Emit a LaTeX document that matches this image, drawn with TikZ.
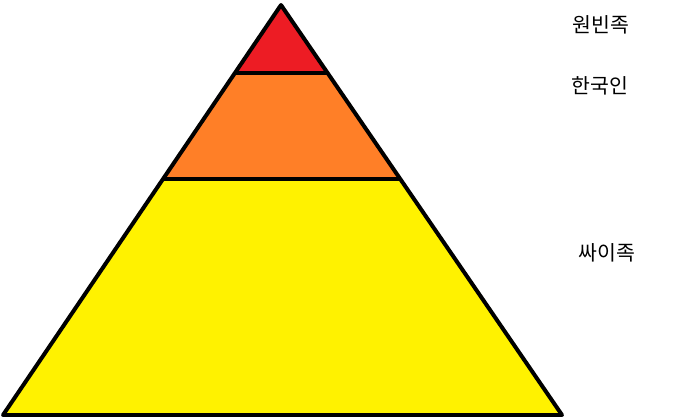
\documentclass[tikz,border=0pt]{standalone}
\usepackage{fontspec}
\newfontfamily\kr{Noto Sans CJK KR}
\definecolor{pred}{HTML}{ED1C24}
\definecolor{porange}{HTML}{FF7F27}
\definecolor{pyellow}{HTML}{FFF200}
\begin{document}
\begin{tikzpicture}[x=1pt,y=-1pt,
  edge/.style={line width=4pt,line join=round},
  lbl/.style={font=\kr\fontsize{20.5}{20.5}\selectfont,inner sep=0pt}]
\useasboundingbox (0,0) rectangle (692,416);
\begin{scope}
\clip (0,0) rectangle (692,416);
\coordinate (A) at (281,5);
\coordinate (BL) at (3,415);
\coordinate (BR) at (562,415);
\coordinate (L1) at (234.4,73);
\coordinate (R1) at (327.6,73);
\coordinate (L2) at (162.3,179);
\coordinate (R2) at (400.4,179);
\fill[pyellow] (L2) -- (R2) -- (BR) -- (BL) -- cycle;
\fill[porange] (L1) -- (R1) -- (R2) -- (L2) -- cycle;
\fill[pred] (A) -- (R1) -- (L1) -- cycle;
\draw[edge] (A) -- (BL) -- (BR) -- cycle;
\draw[edge] (L1) -- (R1);
\draw[edge] (L2) -- (R2);
\end{scope}
\node[lbl] (t1) at (601,25) {원빈족};
\node[lbl] (t2) at (600,86) {한국인};
\node[lbl] (t3) at (607,253) {싸이족};
\end{tikzpicture}
\end{document}
